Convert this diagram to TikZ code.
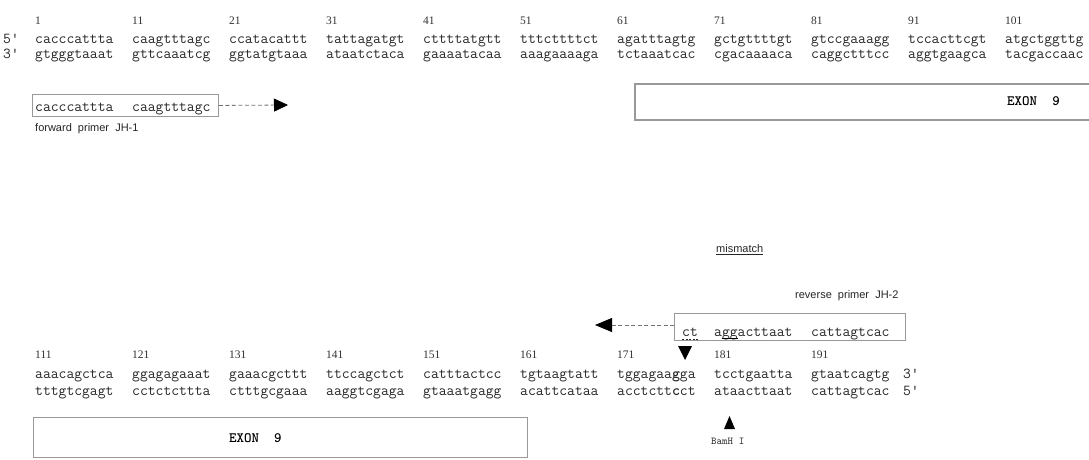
\documentclass[tikz,border=0pt]{standalone}
\usepackage{fontspec}
\newfontfamily\lsans{Liberation Sans}
\newfontfamily\lserif{Liberation Serif}
\usetikzlibrary{arrows.meta}
\begin{document}
\begin{tikzpicture}[x=1pt,y=-1pt,
  seq/.style={anchor=base west,inner sep=0pt,font=\ttfamily\fontsize{15.2}{16}\selectfont,text=black!85},
  num/.style={anchor=base west,inner sep=0pt,font=\lserif\fontsize{11.5}{12}\selectfont,text=black!80},
  lab/.style={anchor=base west,inner sep=0pt,font=\lsans\fontsize{11}{12}\selectfont,text=black!85},
  small/.style={anchor=base west,inner sep=0pt,font=\ttfamily\fontsize{10.5}{11}\selectfont,text=black!85},
  exontext/.style={anchor=base west,inner sep=0pt,font=\ttfamily\bfseries\fontsize{14.3}{15}\selectfont},
  boxline/.style={draw=black!40,line width=1.1pt},
  pbox/.style={draw=black!40,line width=0.9pt,inner sep=0pt,anchor=north west},
  pline/.style={draw=black!55,line width=0.8pt,dash pattern=on 4pt off 2.5pt,
     -{Triangle[length=14pt,width=13pt,color=black,fill=black]}},
  tri/.style={fill=black},
]
\fill[white] (0,0) rectangle (1089,460);
\useasboundingbox (0,0) rectangle (1089,460);

% ---------- top block ----------
\foreach \n [count=\k from 0] in {1,11,21,31,41,51,61,71,81,91,101}
  \node[num] (na\k) at ({35+97*\k},25) {\n};
\node[seq] (p5a) at (3,44) {5'};
\node[seq] (p3a) at (3,59) {3'};
\foreach \s [count=\k from 0] in {cacccattta,caagtttagc,ccatacattt,tattagatgt,cttttatgtt,tttcttttct,agatttagtg,gctgttttgt,gtccgaaagg,tccacttcgt,atgctggttg}
  \node[seq] (ta\k) at ({35+97*\k},44) {\s};
\foreach \s [count=\k from 0] in {gtgggtaaat,gttcaaatcg,ggtatgtaaa,ataatctaca,gaaaatacaa,aaagaaaaga,tctaaatcac,cgacaaaaca,caggctttcc,aggtgaagca,tacgaccaac}
  \node[seq] (tb\k) at ({35+97*\k},59) {\s};

% forward primer
\node[pbox,minimum width=186pt,minimum height=22pt] (fbox) at (32,94) {};
\node[seq] (fp1) at (35,111) {cacccattta};
\node[seq] (fp2) at (132,111) {caagtttagc};
\coordinate (ftip) at (288,105);
\draw[pline] (fbox.east) -- (ftip);
\node[lab] (flab) at (35,131) {forward\ \ primer\ \ JH-1};

% top exon box (open to the right)
\draw[boxline] (1100,84) -- (635,84) -- (635,120) -- (1100,120);
\node[exontext] (ex1) at (1007,105) {EXON\ \ 9};

% ---------- bottom block ----------
\node[lab] (mm) at (716,252) {mismatch};
\draw[black!85,line width=0.6pt] ([yshift=-2pt]mm.base west) -- ([yshift=-2pt]mm.base east);
\node[lab] (rlab) at (795,298) {reverse\ \ primer\ \ JH-2};

\node[pbox,minimum width=231pt,minimum height=27pt] (rbox) at (674,313) {};
\node[seq] (rp1) at (682,336) {ct};
\node[seq] (rp2) at (714,336) {aggacttaat};
\node[seq] (rp3) at (811,336) {cattagtcac};
\draw[black!85,line width=0.7pt,dash pattern=on 2pt off 1.5pt] ([yshift=-3.5pt]rp1.base west) -- ([yshift=-3.5pt]rp1.base east);
\draw[black,line width=1.4pt] ([xshift=8pt,yshift=-2.5pt]rp2.base west) -- ([xshift=24pt,yshift=-2.5pt]rp2.base west);
\coordinate (rtip) at (595,325);
\draw[pline,-{Triangle[length=17pt,width=14pt,color=black,fill=black]}] (rbox.west |- rtip) -- (rtip);

\foreach \n [count=\k from 0] in {111,121,131,141,151,161,171}
  \node[num] (nb\k) at ({35+97*\k},358) {\n};
\node[num] (nb7) at (714,358) {181};
\node[num] (nb8) at (811,358) {191};
\fill[tri] (678,346) -- (692,346) -- (685,360) -- cycle;

\foreach \s [count=\k from 0] in {aaacagctca,ggagagaaat,gaaacgcttt,ttccagctct,catttactcc,tgtaagtatt,{tggagaa\textbf{g}ga},tcctgaatta,gtaatcagtg}
  \node[seq] (ba\k) at ({35+97*\k},378) {\s};
\foreach \s [count=\k from 0] in {tttgtcgagt,cctctcttta,ctttgcgaaa,aaggtcgaga,gtaaatgagg,acattcataa,{acctctt\textbf{c}ct},ataacttaat,cattagtcac}
  \node[seq] (bb\k) at ({35+97*\k},395) {\s};
\node[seq] (p3b) at (903,378) {3'};
\node[seq] (p5b) at (903,395) {5'};

% BamH I
\fill[tri] (724,429) -- (735,429) -- (729.5,416) -- cycle;
\node[small] (bam) at (711,444) {BamH\ I};

% bottom exon box
\node[pbox,boxline,minimum width=494pt,minimum height=40pt] (ex2box) at (33,417) {};
\node[exontext] (ex2) at (229,442) {EXON\ \ 9};
\end{tikzpicture}
\end{document}
